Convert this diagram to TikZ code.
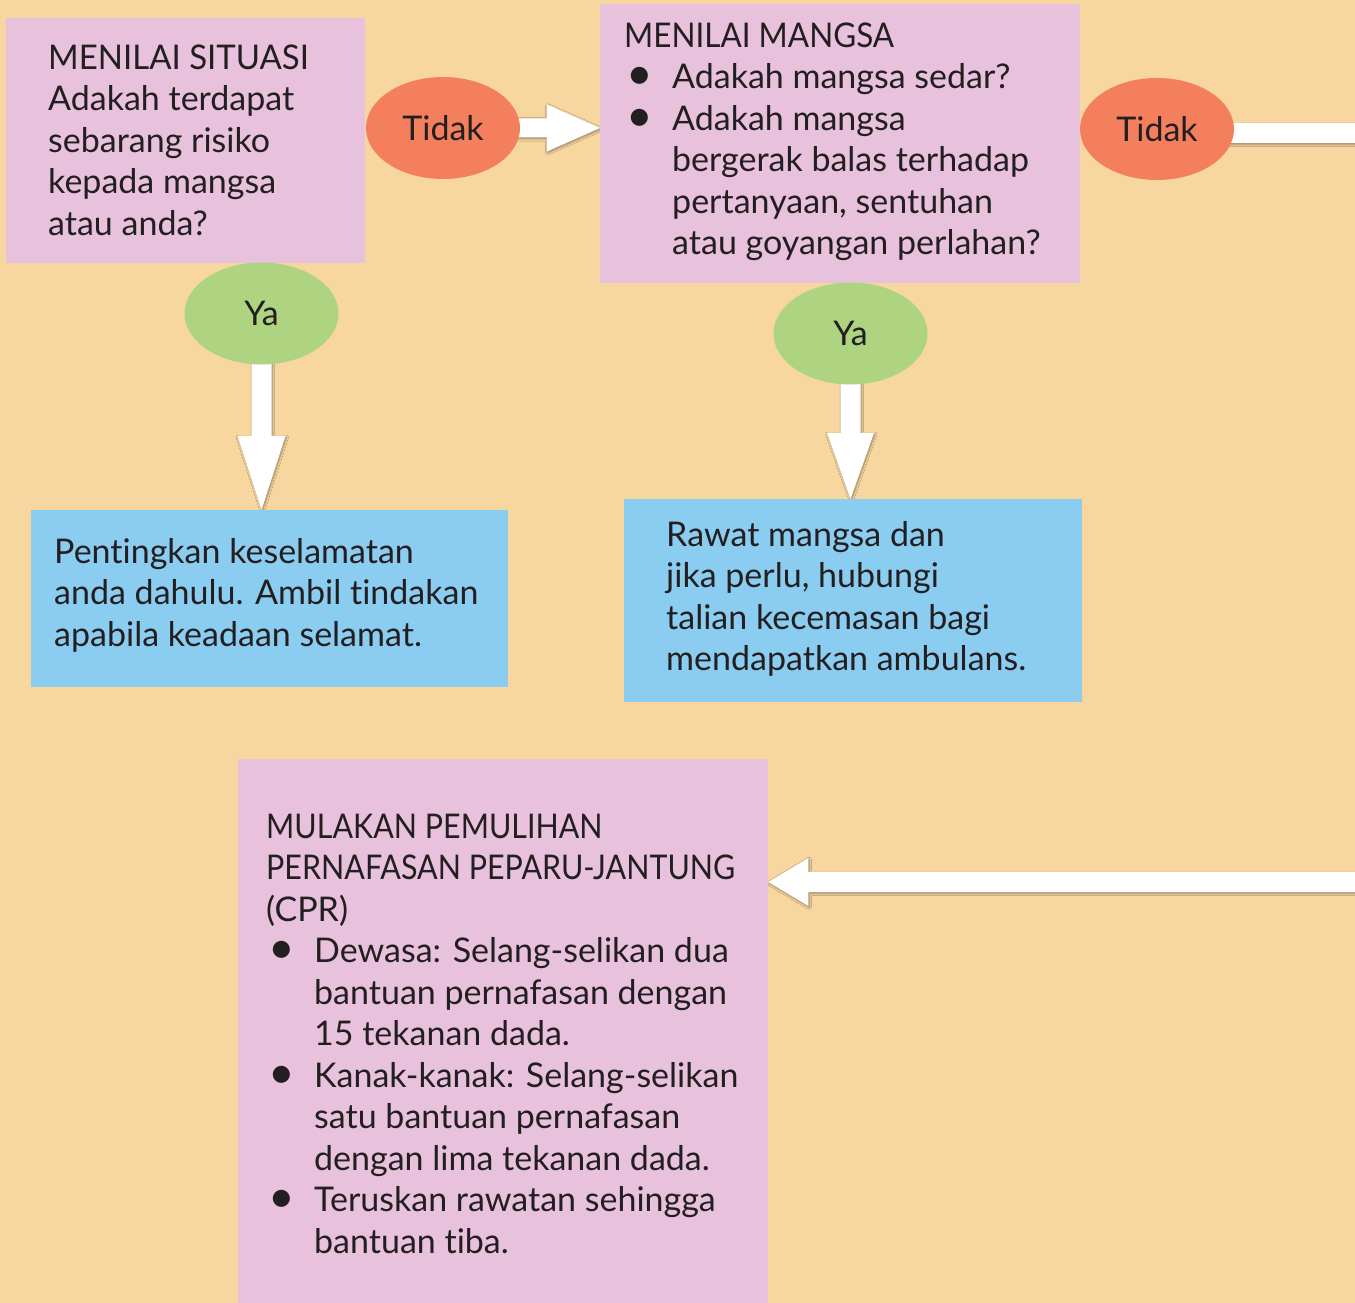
\documentclass[tikz,border=0pt]{standalone}
\usepackage{fontspec}
\setmainfont{Lato}[Ligatures=NoCommon]
\usetikzlibrary{calc,shapes.geometric,shadows.blur}
\pgfdeclarelayer{bg}
\pgfsetlayers{bg,main}
\definecolor{bgc}{HTML}{F7D6A0}
\definecolor{pinkc}{HTML}{E8C2DC}
\definecolor{bluec}{HTML}{8BCDF1}
\definecolor{orangec}{HTML}{F47F5D}
\definecolor{greenc}{HTML}{AED481}
\definecolor{inkc}{HTML}{231F20}
\tikzset{
  txt/.style={font=\fontsize{34}{41.5}\selectfont, text=inkc, align=left, inner sep=0pt, anchor=base west},
  panel/.style={rectangle, anchor=north west, inner sep=0pt},
  pinkbox/.style={panel, fill=pinkc},
  bluebox/.style={panel, fill=bluec},
  oval/.style={ellipse, minimum width=154pt, minimum height=102pt, inner sep=0pt,
    font=\fontsize{34}{41.5}\selectfont, text=inkc},
  nooval/.style={oval, fill=orangec},
  yesoval/.style={oval, fill=greenc},
  arrowbody/.style={fill=white, blur shadow={shadow xshift=0.8pt, shadow yshift=-1.3pt,
    shadow blur radius=2.2pt, shadow opacity=40, shadow blur steps=6}}
}
\newcommand\blockarrow[5]{%
  \coordinate (bah) at ($(#2)!#5!(#1)$);
  \fill[arrowbody] ($(#1)!#3!90:(#2)$) -- ($(bah)!#3!90:(#2)$) -- ($(bah)!#4!90:(#2)$)
    -- (#2) -- ($(bah)!#4!-90:(#2)$) -- ($(bah)!#3!-90:(#2)$) -- ($(#1)!#3!-90:(#2)$) -- cycle;}
\newcommand\bl{\makebox[48pt][l]{\hspace{2pt}\raisebox{-1pt}{\scalebox{1.35}{\textbullet}}}}
\newcommand\ind{\hspace*{48pt}}
\newcommand\caps[2]{\scalebox{#1}[1]{#2}}
\begin{document}
\begin{tikzpicture}[x=1pt,y=-1pt]
\useasboundingbox (0,0) rectangle (1355,1303);
\clip (0,0) rectangle (1355,1303);

% boxes
\node[pinkbox, minimum width=359pt, minimum height=245pt] (b1) at (6,18) {};
\node[pinkbox, minimum width=480pt, minimum height=279pt] (b2) at (600,4) {};
\node[bluebox, minimum width=477pt, minimum height=177pt] (c1) at (31,510) {};
\node[bluebox, minimum width=458pt, minimum height=203pt] (c2) at (624,499) {};
\node[pinkbox, minimum width=530pt, minimum height=560pt] (b3) at (238,759) {};

% texts (anchored at the baseline of the last line)
\node[txt] (b1t) at (48,235) {\caps{0.97}{MENILAI SITUASI}\\Adakah terdapat\\sebarang risiko\\kepada mangsa\\atau anda?};
\node[txt] (b2t) at (624,254.5) {\caps{0.925}{MENILAI MANGSA}\\\bl Adakah mangsa sedar?\\\bl Adakah mangsa\\\ind bergerak balas terhadap\\\ind pertanyaan, sentuhan\\\ind atau goyangan perlahan?};
\node[txt] (c1t) at (54,646) {Pentingkan keselamatan\\anda dahulu. Ambil tindakan\\apabila keadaan selamat.};
\node[txt] (c2t) at (666,670.5) {Rawat mangsa dan\\jika perlu, hubungi\\talian kecemasan bagi\\mendapatkan ambulans.};
\node[txt] (b3t) at (266,1253) {\caps{0.895}{MULAKAN PEMULIHAN}\\\caps{0.895}{PERNAFASAN PEPARU-JANTUNG}\\(CPR)\\\bl Dewasa: Selang-selikan dua\\\ind bantuan pernafasan dengan\\\ind 15 tekanan dada.\\\bl Kanak-kanak: Selang-selikan\\\ind satu bantuan pernafasan\\\ind dengan lima tekanan dada.\\\bl Teruskan rawatan sehingga\\\ind bantuan tiba.};

% ovals
\node[nooval] (t1) at (443,128) {Tidak};
\node[nooval] (t2) at (1157,129) {Tidak};
\node[yesoval] (y1) at (261.5,313.5) {Ya};
\node[yesoval] (y2) at (850.5,333.5) {Ya};

\begin{pgfonlayer}{bg}
\fill[bgc] (0,0) rectangle (1355,1303);
\coordinate (a1tip) at (b2.west |- t1.center);
\blockarrow{t1.center}{a1tip}{9.5pt}{23.5pt}{53pt}
\coordinate (a3tip) at (y1.center |- c1.north);
\blockarrow{y1.center}{a3tip}{10pt}{24pt}{74pt}
\coordinate (a4tip) at (y2.center |- c2.north);
\blockarrow{y2.center}{a4tip}{10pt}{23.5pt}{66pt}
\coordinate (e1) at (1370,133);
\coordinate (e1s) at (t2.center |- e1);
\fill[arrowbody] ($(e1s)+(0,-10)$) rectangle ($(e1)+(0,10)$);
\coordinate (e2) at (1370,882);
\coordinate (a5tip) at (b3.east |- e2);
\blockarrow{e2}{a5tip}{10pt}{24pt}{40pt}
\end{pgfonlayer}
\end{tikzpicture}
\end{document}
